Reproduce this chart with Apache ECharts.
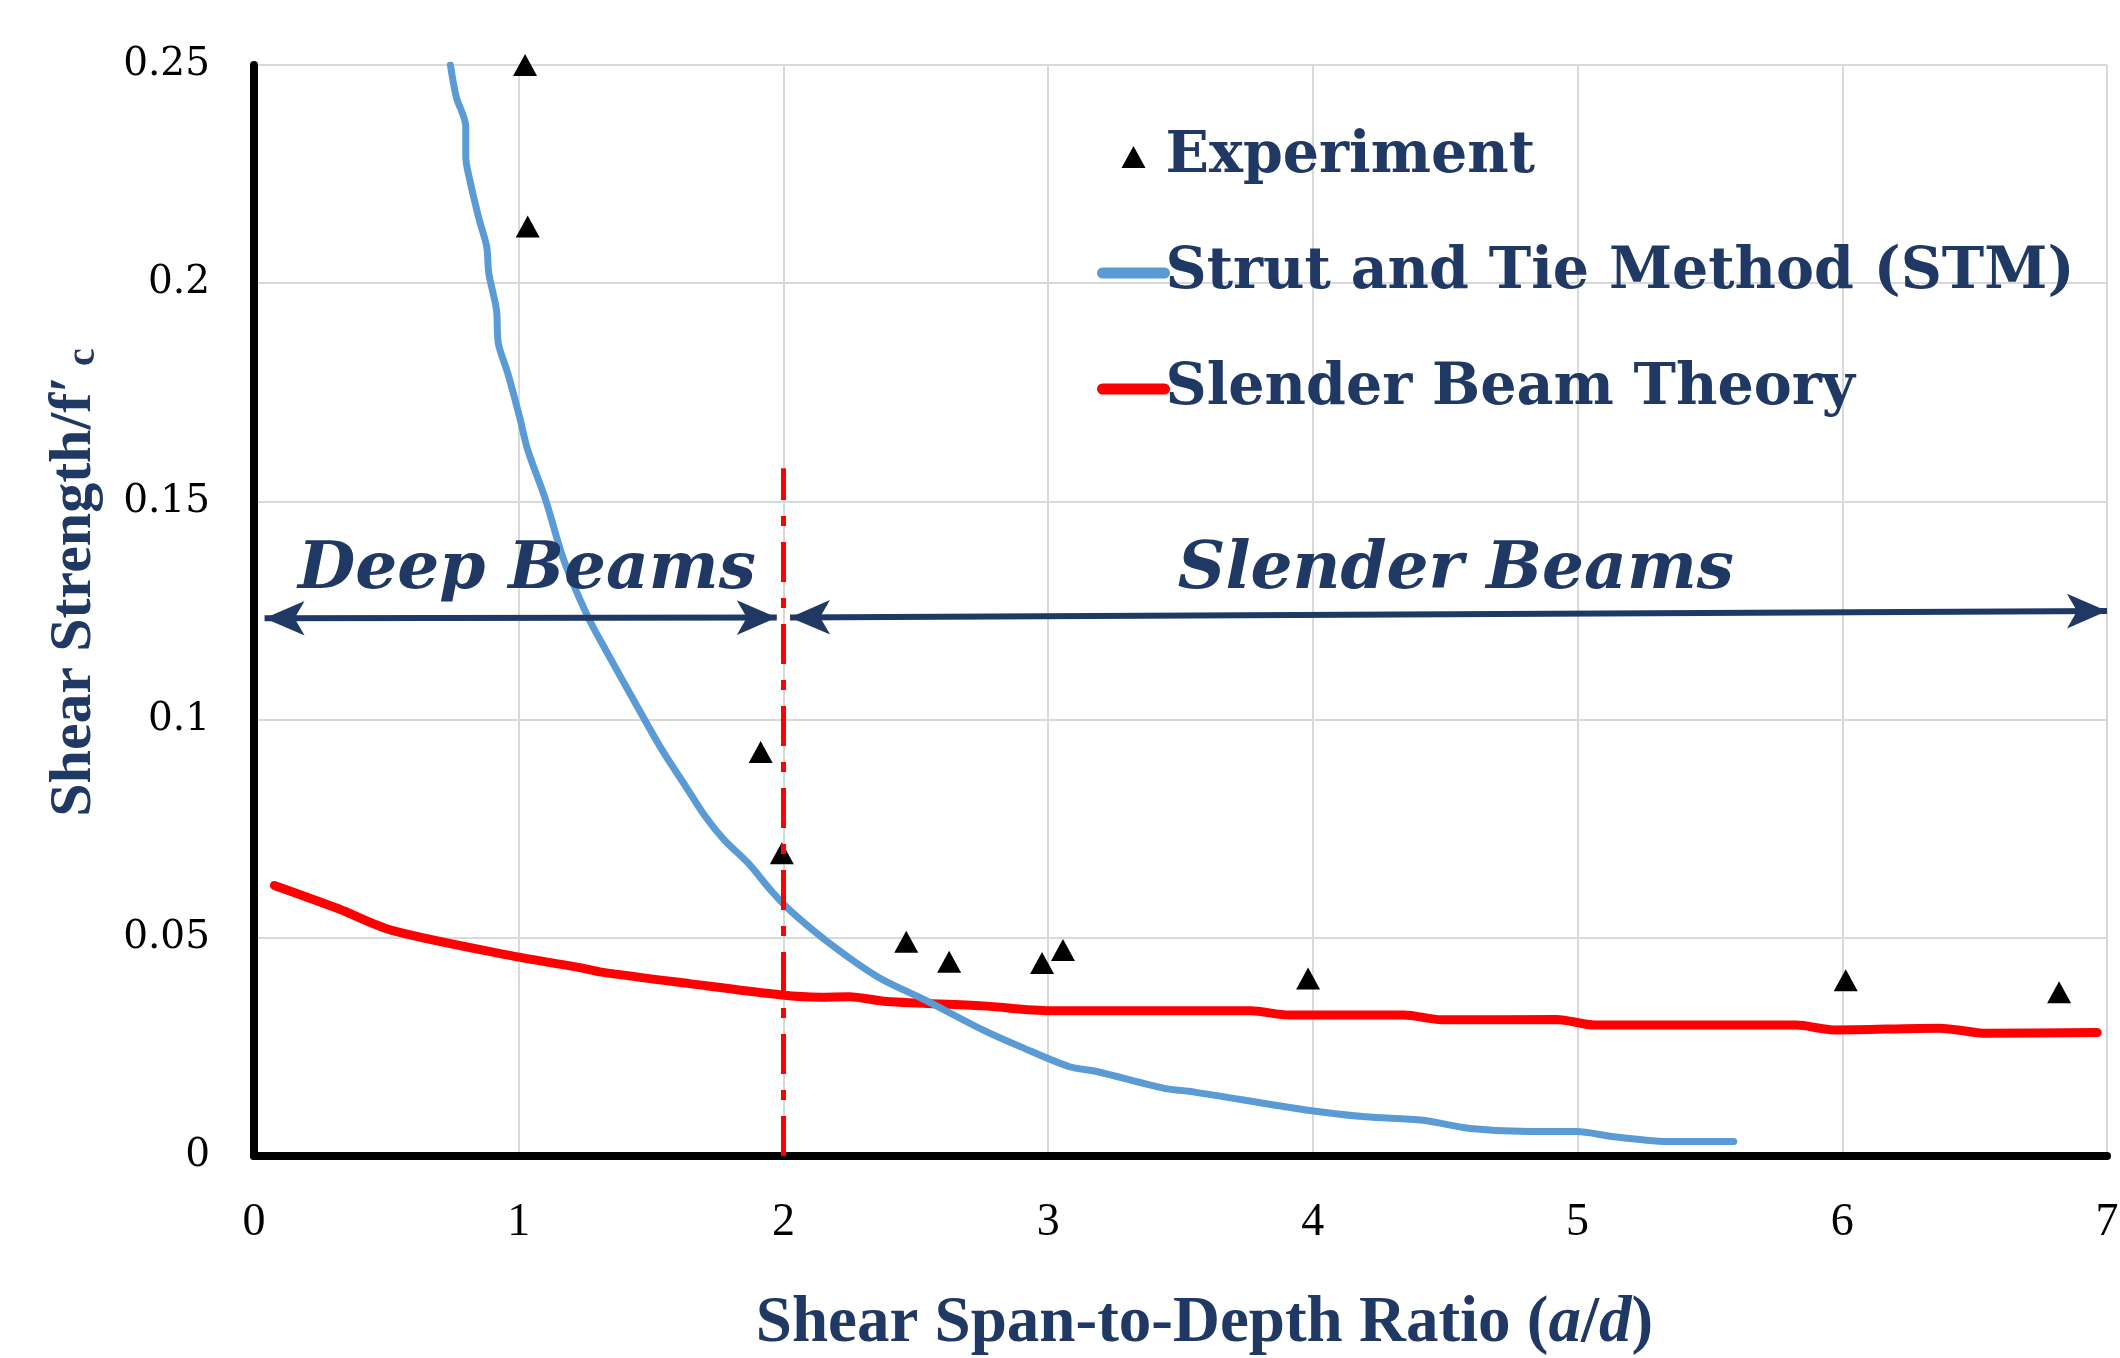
<!DOCTYPE html>
<html>
<head>
<meta charset="utf-8">
<script src="https://cdn.jsdelivr.net/npm/echarts@6/dist/echarts.min.js"></script>
<style>
  html, body { margin: 0; padding: 0; background: #fff; }
  #chart { width: 2120px; height: 1358px; }
</style>
</head>
<body>
<div id="chart"></div>
<script>
// experiment points
var expRatio = [1.024, 1.034, 1.914, 1.994, 2.464, 2.626, 2.977, 3.056, 3.982, 6.013, 6.819];
var expStrength = [0.2500, 0.2130, 0.0926, 0.0694, 0.0491, 0.0445, 0.0442, 0.0472, 0.0407, 0.0403, 0.0375];

// strut and tie method curve
var stmRatio = [0.742, 0.764, 0.800, 0.800, 0.815, 0.851, 0.879, 0.887, 0.916, 0.923, 0.959, 1.003,
  1.034, 1.102, 1.170, 1.261, 1.329, 1.434, 1.542, 1.632, 1.705, 1.777, 1.867, 1.958, 2.030,
  2.175, 2.355, 2.536, 2.753, 2.897, 3.078, 3.187, 3.439, 3.548, 3.981, 4.198, 4.415, 4.596,
  4.813, 4.994, 5.138, 5.355, 5.590];
var stmStrength = [0.2500, 0.2427, 0.2359, 0.2290, 0.2237, 0.2145, 0.2084, 0.2023, 0.1939, 0.1862, 0.1793, 0.1694,
  0.1618, 0.1503, 0.1366, 0.1236, 0.1159, 0.1045, 0.0930, 0.0846, 0.0778, 0.0724, 0.0671, 0.0605, 0.0560,
  0.0487, 0.0411, 0.0357, 0.0289, 0.0250, 0.0205, 0.0193, 0.0155, 0.0147, 0.0105, 0.0090, 0.0082, 0.0063,
  0.0056, 0.0056, 0.0044, 0.0033, 0.0033];

// slender beam theory curve
var sbtRatio = [0.077, 0.317, 0.521, 1.007, 1.237, 1.307, 1.645, 1.994, 2.138, 2.247, 2.391, 2.753,
  3.006, 3.765, 3.909, 4.343, 4.488, 4.921, 5.066, 5.825, 5.969, 6.367, 6.547, 6.963];
var sbtStrength = [0.0620, 0.0567, 0.0517, 0.0455, 0.0431, 0.0422, 0.0395, 0.0369, 0.0364, 0.0365, 0.0354, 0.0344,
  0.0333, 0.0333, 0.0323, 0.0323, 0.0312, 0.0313, 0.0300, 0.0300, 0.0289, 0.0293, 0.0281, 0.0283];

// region annotations
var regionLabels = ['Deep Beams', 'Slender Beams'];
var regionLabelPos = [[1.031, 0.1340], [4.54, 0.1340]];
var deepArrow = [[0.04, 0.1232], [1.975, 0.1234]];
var slenderArrow = [[2.025, 0.1234], [7.0, 0.1249]];
var limitLine = [[2, 0], [2, 0.1576]];

var navy = '#1F3864';

function zip(xs, ys) {
  var out = [];
  for (var i = 0; i < xs.length; i++) out.push([xs[i], ys[i]]);
  return out;
}

var chart = echarts.init(document.getElementById('chart'));

var option = {
  backgroundColor: '#fff',
  animation: false,
  // fixed plot box, no automatic shrinking for the axis names
  grid: { left: 254, right: 13, top: 65, bottom: 202, outerBoundsMode: 'none' },
  legend: {
    orient: 'vertical',
    left: 1092,
    top: 120,
    itemWidth: 62,
    itemHeight: 22,
    itemGap: 52,
    symbolKeepAspect: true,
    textStyle: { fontFamily: 'DejaVu Serif', fontWeight: 'bold', fontSize: 57, color: navy, lineHeight: 64, padding: [0, 0, 0, -4] },
    data: [
      { name: 'Experiment', icon: 'path://M0,22 L12,0 L24,22 Z', itemStyle: { color: '#000', opacity: 1 } },
      // hide the dot that ECharts puts in the middle of line icons
      { name: 'Strut and Tie Method (STM)', lineStyle: { width: 11, cap: 'round' }, itemStyle: { opacity: 0 } },
      { name: 'Slender Beam Theory', lineStyle: { width: 11, cap: 'round' }, itemStyle: { opacity: 0 } }
    ]
  },
  xAxis: {
    type: 'value',
    min: 0,
    max: 7,
    interval: 1,
    name: '{t|Shear Span-to-Depth Ratio (}{i|a}{t|/}{i|d}{t|)}',
    nameLocation: 'middle',
    nameGap: 136,
    nameTextStyle: {
      padding: [0, 0, 0, 48],
      rich: {
        t: { fontFamily: 'Liberation Serif', fontWeight: 'bold', fontSize: 65, color: navy },
        i: { fontFamily: 'Liberation Serif', fontWeight: 'bold', fontStyle: 'italic', fontSize: 65, color: navy }
      }
    },
    axisLine: { lineStyle: { color: '#000', width: 8 } },
    axisTick: { show: false },
    axisLabel: { fontFamily: 'Liberation Serif', fontSize: 46, color: '#000', margin: 44 },
    splitLine: { show: true, lineStyle: { color: '#D9D9D9', width: 2 } }
  },
  yAxis: {
    type: 'value',
    min: 0,
    max: 0.25,
    interval: 0.05,
    name: '{t|Shear Strength/f′}{s| c}',
    nameLocation: 'middle',
    nameGap: 150,
    nameTextStyle: {
      padding: [0, 0, 0, 56],
      rich: {
        t: { fontFamily: 'Liberation Serif', fontWeight: 'bold', fontSize: 60, color: navy },
        s: { fontFamily: 'Liberation Serif', fontWeight: 'bold', fontSize: 40, color: navy, verticalAlign: 'bottom' }
      }
    },
    axisLine: { show: true, lineStyle: { color: '#000', width: 8 } },
    axisTick: { show: false },
    axisLabel: { fontFamily: 'DejaVu Serif', fontSize: 39, color: '#000', margin: 44 },
    splitLine: { show: true, lineStyle: { color: '#D9D9D9', width: 2 } }
  },
  series: [
    {
      name: 'Slender Beam Theory',
      type: 'line',
      data: zip(sbtRatio, sbtStrength),
      smooth: 0.3,
      symbol: 'none',
      lineStyle: { color: '#FF0000', width: 9, cap: 'round' },
      itemStyle: { color: '#FF0000' },
      z: 2
    },
    {
      name: 'Strut and Tie Method (STM)',
      type: 'line',
      data: zip(stmRatio, stmStrength),
      smooth: 0.3,
      symbol: 'none',
      lineStyle: { color: '#5B9BD5', width: 7, cap: 'round' },
      itemStyle: { color: '#5B9BD5' },
      z: 3
    },
    {
      name: 'Experiment',
      type: 'scatter',
      data: zip(expRatio, expStrength),
      symbol: 'path://M0,22 L12,0 L24,22 Z',
      symbolSize: [24, 22],
      clip: false,
      itemStyle: { color: '#000', opacity: 1 },
      z: 4
    },
    {
      // arrows, limit line and region labels
      name: 'notes',
      type: 'scatter',
      data: regionLabelPos.map(function (p, i) { return { value: p, name: regionLabels[i] }; }),
      symbolSize: 0,
      silent: true,
      z: 5,
      itemStyle: { opacity: 1 },
      label: {
        show: true,
        position: 'inside',
        formatter: '{b}',
        fontFamily: 'DejaVu Serif',
        fontWeight: 'bold',
        fontStyle: 'italic',
        fontSize: 66,
        color: navy,
        opacity: 1
      },
      markLine: {
        silent: true,
        animation: false,
        label: { show: false },
        data: [
          [
            { coord: limitLine[0], symbol: 'none', lineStyle: { color: '#FF0000', width: 5, type: [40, 16, 10, 16] } },
            { coord: limitLine[1], symbol: 'none' }
          ],
          [
            { coord: deepArrow[0], symbol: 'arrow', symbolSize: [26, 40], lineStyle: { color: navy, width: 6, type: 'solid' } },
            { coord: deepArrow[1], symbol: 'arrow', symbolSize: [26, 40] }
          ],
          [
            { coord: slenderArrow[0], symbol: 'arrow', symbolSize: [26, 40], lineStyle: { color: navy, width: 6, type: 'solid' } },
            { coord: slenderArrow[1], symbol: 'arrow', symbolSize: [26, 40] }
          ]
        ]
      }
    }
  ]
};

chart.setOption(option);
</script>
</body>
</html>
